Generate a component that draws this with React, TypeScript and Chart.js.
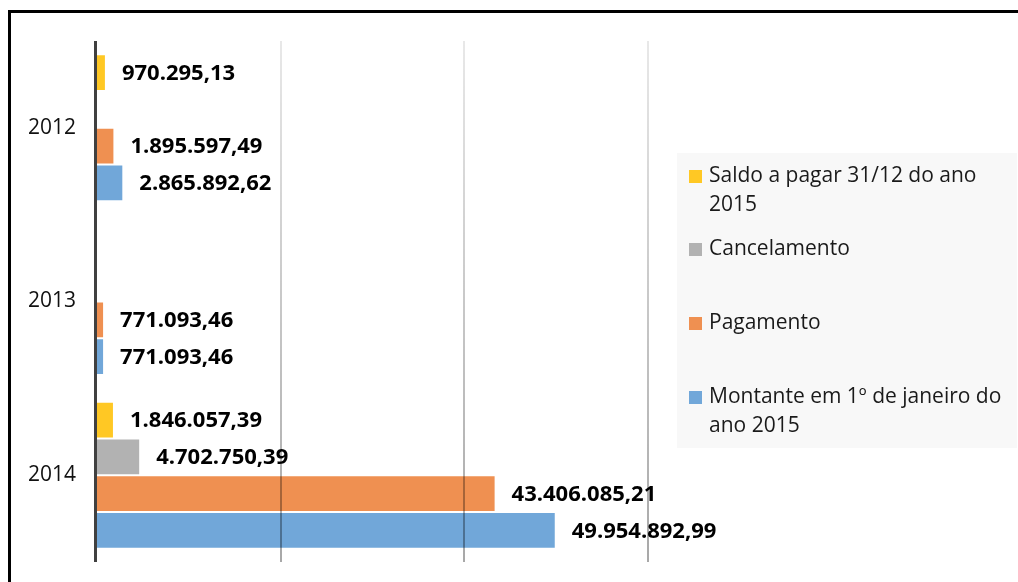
import React, { useEffect, useRef } from "react";
import { Chart, registerables } from "chart.js";

Chart.register(...registerables);

const categories = ["2012", "2013", "2014"];
const seriesNames = [
  ["Saldo a pagar 31/12 do ano", "2015"],
  ["Cancelamento"],
  ["Pagamento"],
  ["Montante em 1º de janeiro do", "ano 2015"],
];
const saldo = [970295.13, null, 1846057.39];
const cancelamento = [null, null, 4702750.39];
const pagamento = [1895597.49, 771093.46, 43406085.21];
const montante = [2865892.62, 771093.46, 49954892.99];
const xTicks = [0, 20000000, 40000000, 60000000];

const colors = ["#ffc824", "#b2b2b2", "#ef9051", "#71a7d9"];

function fmt(v: number): string {
  const [i, d] = v.toFixed(2).split(".");
  return i.replace(/\B(?=(\d{3})+(?!\d))/g, ".") + "," + d;
}

const framePlugin = {
  id: "frame",
  beforeDraw(chart: any) {
    const ctx = chart.ctx;
    ctx.save();
    ctx.fillStyle = "#ffffff";
    ctx.fillRect(0, 0, chart.width, chart.height);
    ctx.strokeStyle = "#000000";
    ctx.lineWidth = 3;
    ctx.beginPath();
    ctx.moveTo(9.5, chart.height + 5);
    ctx.lineTo(9.5, 11.5);
    ctx.lineTo(chart.width + 5, 11.5);
    ctx.stroke();
    ctx.restore();
  },
};

const overlayPlugin = {
  id: "overlay",
  afterDatasetsDraw(chart: any) {
    const ctx = chart.ctx;
    const area = chart.chartArea;
    const xs = chart.scales.x;
    ctx.save();
    // grid lines
    const grad = ctx.createLinearGradient(0, area.top, 0, area.bottom);
    grad.addColorStop(0, "rgba(0,0,0,0.09)");
    grad.addColorStop(1, "rgba(0,0,0,0.34)");
    ctx.strokeStyle = grad;
    ctx.lineWidth = 2;
    xTicks.slice(1).forEach((t) => {
      const px = Math.round(xs.getPixelForValue(t));
      ctx.beginPath();
      ctx.moveTo(px, area.top);
      ctx.lineTo(px, area.bottom);
      ctx.stroke();
    });
    // axis line
    ctx.strokeStyle = "#404040";
    ctx.lineWidth = 3;
    ctx.beginPath();
    ctx.moveTo(area.left - 1.5, area.top);
    ctx.lineTo(area.left - 1.5, area.bottom);
    ctx.stroke();

    // data labels
    ctx.fillStyle = "#000000";
    ctx.font = "bold 22px 'Open Sans'";
    ctx.textAlign = "left";
    ctx.textBaseline = "middle";
    chart.data.datasets.forEach((ds: any, di: number) => {
      const meta = chart.getDatasetMeta(di);
      meta.data.forEach((el: any, i: number) => {
        const v = ds.data[i];
        if (v === null || v === undefined) return;
        ctx.fillText(fmt(v), el.x + 16, el.y + 1);
      });
    });

    // legend
    const lx = 677, ly = 153, lw = 340, lh = 295;
    ctx.fillStyle = "#f8f8f8";
    ctx.fillRect(lx, ly, lw, lh);
    const rows = [176, 249, 323, 397];
    ctx.font = "21px 'Open Sans'";
    ctx.textBaseline = "middle";
    seriesNames.forEach((lines, k) => {
      ctx.fillStyle = colors[k];
      ctx.fillRect(689, rows[k] - 6, 13, 13);
      ctx.fillStyle = "#1a1a1a";
      lines.forEach((ln, j) => {
        ctx.fillText(ln, 709, rows[k] + j * 29);
      });
    });
    ctx.restore();
  },
};

export default function App() {
  const ref = useRef<HTMLCanvasElement>(null);
  useEffect(() => {
    document.body.style.margin = "0";
    document.body.style.overflow = "hidden";
    const chart = new Chart(ref.current!, {
      type: "bar",
      data: {
        labels: categories,
        datasets: [
          { label: seriesNames[0].join(" "), data: saldo, backgroundColor: colors[0] },
          { label: seriesNames[1].join(" "), data: cancelamento, backgroundColor: colors[1] },
          { label: seriesNames[2].join(" "), data: pagamento, backgroundColor: colors[2] },
          { label: seriesNames[3].join(" "), data: montante, backgroundColor: colors[3] },
        ].map((d) => ({
          ...d,
          borderColor: "rgba(255,255,255,0.7)",
          borderWidth: 1,
          categoryPercentage: 0.846,
          barPercentage: 1,
        })),
      },
      options: {
        indexAxis: "y",
        responsive: false,
        animation: false,
        devicePixelRatio: 1,
        layout: { padding: { top: 41, bottom: 20, right: 370, left: 0 } },
        plugins: { legend: { display: false }, tooltip: { enabled: false } },
        scales: {
          x: {
            display: false,
            min: 0,
            max: 60000000,
          },
          y: {
            grid: { display: false, drawTicks: false },
            border: { display: false },
            ticks: {
              padding: 21,
              color: "#111111",
              font: { family: "'Open Sans'", size: 21 },
            },
            afterFit(scale: any) {
              scale.width = 97;
              scale.paddingTop = 0;
              scale.paddingBottom = 0;
            },
          },
        },
      },
      plugins: [framePlugin, overlayPlugin],
    } as any);
    return () => chart.destroy();
  }, []);
  return (
    <div style={{ position: "fixed", left: 0, top: 0, width: 1018, height: 582 }}>
      <canvas ref={ref} width={1018} height={582} style={{ width: 1018, height: 582 }} />
    </div>
  );
}
